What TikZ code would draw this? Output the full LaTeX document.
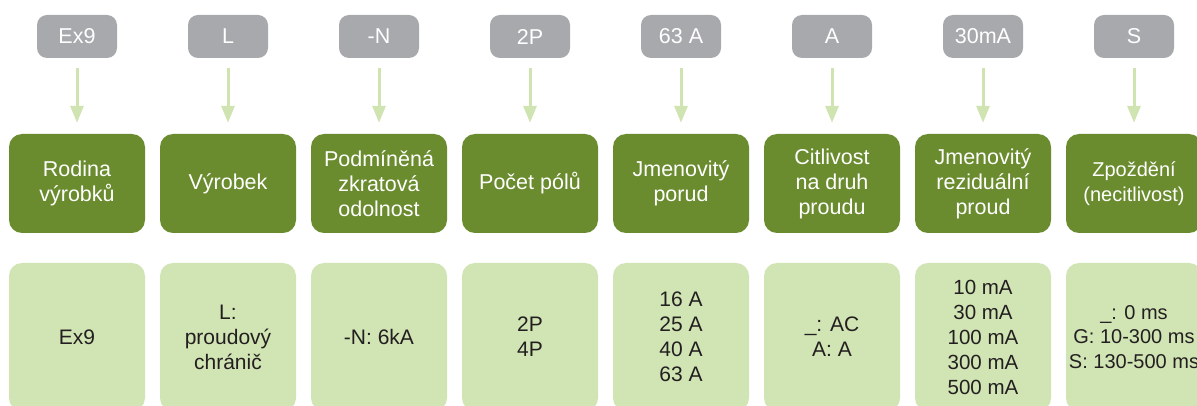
\documentclass[tikz,border=0pt]{standalone}
\usepackage{fontspec}
\setmainfont{Liberation Sans}
\usetikzlibrary{arrows.meta}
\definecolor{codegray}{HTML}{A7A9AC}
\definecolor{darkgr}{HTML}{6A8C2F}
\definecolor{lightgr}{HTML}{D1E4B4}
\definecolor{arrowgr}{HTML}{D0E4B2}
\definecolor{txtdark}{HTML}{231F20}
\tikzset{
  codebox/.style={fill=codegray, draw=none, rounded corners=10pt, minimum width=80pt, minimum height=43pt, inner sep=0pt, text=white, font=\fontsize{21.5}{24}\selectfont},
  catbox/.style={fill=darkgr, draw=none, rounded corners=13pt, minimum width=136pt, minimum height=99pt, inner sep=0pt, text=white, align=center, font=\fontsize{21.5}{25}\selectfont},
  valbox/.style={fill=lightgr, draw=none, rounded corners=13pt, minimum width=136pt, minimum height=148pt, inner sep=0pt, text=txtdark, align=center, font=\fontsize{21}{25}\selectfont},
  link/.style={draw=arrowgr, line width=3pt, -{Triangle[width=13pt,length=17pt]}, shorten <=10pt, shorten >=11pt},
}
\begin{document}
\begin{tikzpicture}[x=1pt,y=-1pt]
\useasboundingbox (0,0) rectangle (1197,406);
\clip (0,0) rectangle (1197,406);
\fill[white] (0,0) rectangle (1197,406);
% code boxes
\node[codebox] (g1) at (77,36.5) {Ex9};
\node[codebox] (g2) at (228,36.5) {L};
\node[codebox] (g3) at (379,36.5) {-N};
\node[codebox] (g4) at (530,36.5) {2P};
\node[codebox] (g5) at (681,36.5) {63 A};
\node[codebox] (g6) at (832,36.5) {A};
\node[codebox] (g7) at (983,36.5) {30mA};
\node[codebox] (g8) at (1134,36.5) {S};
% category boxes
\node[catbox] (c1) at (77,183.5) {Rodina\\výrobků};
\node[catbox] (c2) at (228,183.5) {Výrobek};
\node[catbox] (c3) at (379,183.5) {Podmíněná\\zkratová\\odolnost};
\node[catbox] (c4) at (530,183.5) {Počet pólů};
\node[catbox] (c5) at (681,183.5) {Jmenovitý\\porud};
\node[catbox] (c6) at (832,183.5) {Citlivost\\na druh\\proudu};
\node[catbox] (c7) at (983,183.5) {Jmenovitý\\reziduální\\proud};
\node[catbox, font=\fontsize{20}{25}\selectfont] (c8) at (1134,183.5) {Zpoždění\\(necitlivost)};
% value boxes
\node[valbox] (v1) at (77,337) {Ex9};
\node[valbox] (v2) at (228,337) {L:\\proudový\\chránič};
\node[valbox] (v3) at (379,337) {-N: 6kA};
\node[valbox] (v4) at (530,337) {2P\\4P};
\node[valbox] (v5) at (681,337) {16 A\\25 A\\40 A\\63 A};
\node[valbox] (v6) at (832,337) {\_: AC\\A: A};
\node[valbox, font=\fontsize{20.5}{25}\selectfont] (v7) at (983,337) {10 mA\\30 mA\\100 mA\\300 mA\\500 mA};
\node[valbox, font=\fontsize{20}{24.5}\selectfont] (v8) at (1134,337) {\_: 0 ms\\G: 10-300 ms\\S: 130-500 ms};
% arrows
\foreach \i in {1,...,8} {
  \draw[link] (g\i.south) -- (c\i.north);
}
\end{tikzpicture}
\end{document}
